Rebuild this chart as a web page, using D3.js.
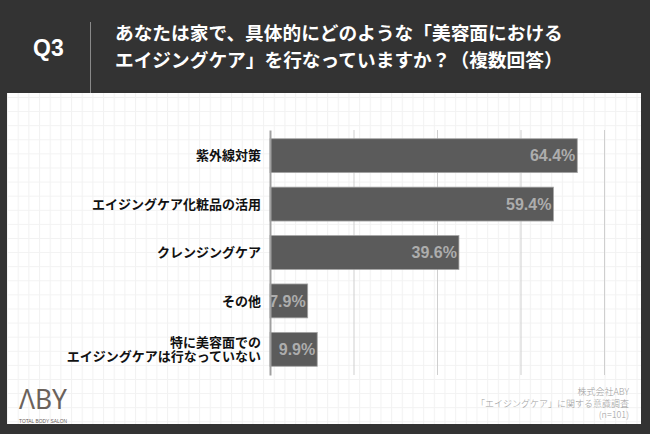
<!doctype html>
<html>
<head>
<meta charset="utf-8">
<script src="https://cdn.jsdelivr.net/npm/d3@7/dist/d3.min.js"></script>
<style>
  body { margin: 0; background: #333; }
  svg { display: block; }
</style>
</head>
<body>
<svg id="chart" width="650" height="434"></svg>
<script>
// data
var categories = ["紫外線対策", "エイジングケア化粧品の活用", "クレンジングケア", "その他", "特に美容面での\nエイジングケアは行なっていない"];
var values = [64.4, 59.4, 39.6, 7.9, 9.9];
var gridTicks = [17.5, 35, 52.5, 70];
var titleLines = ["あなたは家で、具体的にどのような「美容面における", "エイジングケア」を行なっていますか？（複数回答）"];
var noteLines = ["株式会社ABY", "「エイジングケア」に関する意識調査", "(n=101)"];

var jp = "'Noto Sans CJK JP', 'Noto Sans', sans-serif";
var latin = "'Liberation Sans', Arial, 'Noto Sans', sans-serif";

var svg = d3.select("#chart");

// dark header background
svg.append("rect").attr("width", 650).attr("height", 434).attr("fill", "#333");

// faint grid paper pattern inside the white panel
var defs = svg.append("defs");
var pat = defs.append("pattern")
    .attr("id", "paper")
    .attr("patternUnits", "userSpaceOnUse")
    .attr("x", 7).attr("y", 97)
    .attr("width", 10.67).attr("height", 14.1);
pat.append("rect").attr("width", 10.67).attr("height", 14.1).attr("fill", "#fff");
pat.append("path")
    .attr("d", "M0.5,0V14.1M0,0.5H10.67")
    .attr("stroke", "#f2f2f2").attr("stroke-width", 1).attr("fill", "none");

svg.append("rect")
    .attr("x", 7).attr("y", 93)
    .attr("width", 634).attr("height", 331)
    .attr("fill", "url(#paper)");

// header
svg.append("text")
    .attr("x", 33).attr("y", 56)
    .attr("fill", "#fff")
    .style("font-family", latin).style("font-weight", "bold").style("font-size", "23px")
    .text("Q3");

svg.append("line")
    .attr("x1", 90.5).attr("x2", 90.5).attr("y1", 22).attr("y2", 93)
    .attr("stroke", "#8a8a8a").attr("stroke-width", 1);

svg.append("g").selectAll("text")
    .data(titleLines)
    .join("text")
    .attr("x", 115)
    .attr("y", function(d, i) { return 40 + i * 27; })
    .attr("fill", "#fff")
    .style("font-family", jp).style("font-weight", "bold").style("font-size", "18.7px")
    .text(function(d) { return d; });

// scales
var x = d3.scaleLinear().domain([0, 70]).range([270, 604]);
var y = d3.scaleBand().domain(categories).range([130, 375])
    .paddingInner(0.3).paddingOuter(0.18);

// vertical gridlines
var grid = svg.append("g")
    .attr("transform", "translate(0,375)")
    .call(d3.axisBottom(x).tickValues(gridTicks).tickSize(-245).tickFormat(""));
grid.select(".domain").remove();
grid.selectAll(".tick line").attr("stroke", "#cfcfcf").attr("stroke-width", 1);

// bars
svg.append("g").selectAll("rect")
    .data(values)
    .join("rect")
    .attr("x", x(0))
    .attr("y", function(d, i) { return y(categories[i]); })
    .attr("width", function(d) { return x(d) - x(0); })
    .attr("height", y.bandwidth())
    .attr("fill", "#5b5b5b")
    .attr("stroke", "#a5a5a5")
    .attr("stroke-width", 0.8);

// value labels
svg.append("g").selectAll("text")
    .data(values)
    .join("text")
    .attr("x", function(d) { return x(d) - 2; })
    .attr("y", function(d, i) { return y(categories[i]) + y.bandwidth() / 2; })
    .attr("dy", "0.36em")
    .attr("text-anchor", "end")
    .attr("fill", "#adadad")
    .style("font-family", latin).style("font-weight", "bold").style("font-size", "16px")
    .text(function(d) { return d.toFixed(1) + "%"; });

// category axis
var yAxis = svg.append("g")
    .attr("transform", "translate(270,0)")
    .call(d3.axisLeft(y).tickSize(0).tickPadding(9));
yAxis.select(".domain").attr("stroke", "#a0a0a0").attr("stroke-width", 2);
yAxis.selectAll(".tick text").remove();
yAxis.selectAll(".tick").each(function(d) {
    var lines = d.split("\n");
    var t = d3.select(this).append("text")
        .attr("x", -9)
        .attr("text-anchor", "end")
        .attr("fill", "#111")
        .style("font-family", jp).style("font-weight", "bold").style("font-size", "13px");
    lines.forEach(function(s, i) {
        t.append("tspan")
            .attr("x", -9)
            .attr("y", (i - (lines.length - 1) / 2) * 14)
            .attr("dy", "0.36em")
            .text(s);
    });
});

// logo
var logo = svg.append("g").attr("fill", "#6b625b");
logo.append("text")
    .attr("x", 19).attr("y", 409)
    .attr("textLength", 48).attr("lengthAdjust", "spacingAndGlyphs")
    .style("font-family", "'Noto Sans', 'DejaVu Sans', sans-serif").style("font-size", "28px")
    .text("ΛBY");
logo.append("text")
    .attr("x", 19).attr("y", 423.3)
    .attr("textLength", 48).attr("lengthAdjust", "spacingAndGlyphs")
    .style("font-family", latin).style("font-size", "5px")
    .text("TOTAL BODY SALON");

// source note
svg.append("g").selectAll("text")
    .data(noteLines)
    .join("text")
    .attr("x", 629)
    .attr("y", function(d, i) { return 395 + i * 11.7; })
    .attr("text-anchor", "end")
    .attr("fill", "#9c9c9c")
    .style("font-family", jp).style("font-weight", "300").style("font-size", "9px")
    .text(function(d) { return d; });
</script>
</body>
</html>
